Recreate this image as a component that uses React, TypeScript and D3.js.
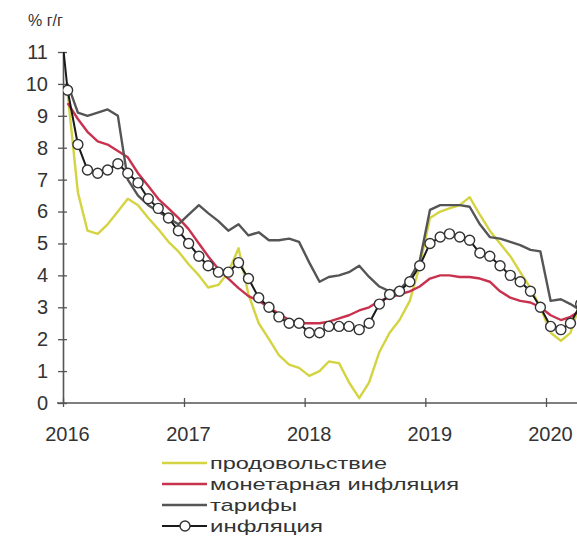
import { useEffect, useRef } from "react"
import * as d3 from "d3"

// monthly points, Dec 2015 .. Apr 2020 (plotted mid-month)
const months = d3
  .timeMonth.range(new Date(2015, 11, 1), new Date(2020, 4, 1))
  .map(d => new Date(d.getFullYear(), d.getMonth(), 15))

const inflation = [
  12.9,
  9.8, 8.1, 7.3, 7.2, 7.3, 7.5, 7.2, 6.9, 6.4, 6.1, 5.8, 5.4,
  5.0, 4.6, 4.3, 4.1, 4.1, 4.4, 3.9, 3.3, 3.0, 2.7, 2.5, 2.5,
  2.2, 2.2, 2.4, 2.4, 2.4, 2.3, 2.5, 3.1, 3.4, 3.5, 3.8, 4.3,
  5.0, 5.2, 5.3, 5.2, 5.1, 4.7, 4.6, 4.3, 4.0, 3.8, 3.5, 3.0,
  2.4, 2.3, 2.5, 3.1,
]

const food = [
  null,
  9.7, 6.6, 5.4, 5.3, 5.6, 6.0, 6.4, 6.2, 5.8, 5.45, 5.05, 4.75,
  4.35, 4.0, 3.62, 3.7, 4.1, 4.85, 3.4, 2.5, 2.0, 1.5, 1.2, 1.1,
  0.85, 1.0, 1.3, 1.25, 0.65, 0.15, 0.65, 1.6, 2.2, 2.6, 3.2, 4.3,
  5.8, 6.0, 6.1, 6.2, 6.45, 5.9, 5.4, 5.0, 4.6, 4.1, 3.6, 3.0,
  2.2, 1.95, 2.2, 3.2,
]

const monetary = [
  null,
  9.4, 8.9, 8.5, 8.2, 8.1, 7.9, 7.7, 7.2, 6.8, 6.4, 6.1, 5.8,
  5.45, 5.0, 4.6, 4.2, 3.9, 3.6, 3.35, 3.2, 3.0, 2.8, 2.6, 2.5,
  2.5, 2.5, 2.55, 2.65, 2.75, 2.9, 3.0, 3.2, 3.3, 3.4, 3.5, 3.65,
  3.9, 4.0, 4.0, 3.95, 3.95, 3.9, 3.8, 3.5, 3.3, 3.2, 3.15, 3.0,
  2.75, 2.6, 2.7, 2.9,
]

const tariffs = [
  null,
  10.0, 9.1, 9.0, 9.1, 9.2, 9.0, 7.0, 6.5, 6.2, 6.0, 5.8, 5.6,
  5.9, 6.2, 5.95, 5.7, 5.4, 5.6, 5.25, 5.35, 5.1, 5.1, 5.15, 5.05,
  4.4, 3.8, 3.95, 4.0, 4.1, 4.3, 3.95, 3.65, 3.5, 3.55, 3.9, 4.45,
  6.05, 6.2, 6.2, 6.2, 6.15, 5.6, 5.2, 5.15, 5.05, 4.95, 4.8, 4.75,
  3.2, 3.25, 3.1, 2.9,
]

const yearTicks = [2016, 2017, 2018, 2019, 2020]
const yTicks = [0, 1, 2, 3, 4, 5, 6, 7, 8, 9, 10, 11]

const seriesNames = ["продовольствие", "монетарная инфляция", "тарифы", "инфляция"]
const legendWidths = [177, 249, 87, 113]

const FONT = "'Liberation Sans', Arial, sans-serif"

export default function App() {
  const ref = useRef<SVGSVGElement>(null)

  useEffect(() => {
    document.body.style.margin = "0"
    const svg = d3.select(ref.current)
    svg.selectAll("*").remove()

    const x = d3.scaleTime()
      .domain([new Date(2016, 0, 1), new Date(2020, 0, 1)])
      .range([63, 546])
    const y = d3.scaleLinear().domain([0, 11]).range([403, 52])

    const defs = svg.append("defs")
    defs.append("clipPath")
      .attr("id", "plot-clip")
      .append("rect")
      .attr("x", 63)
      .attr("y", y(11))
      .attr("width", 577 - 63)
      .attr("height", y(0) - y(11))

    // y axis
    const yAxis = svg.append("g")
      .attr("transform", `translate(${x(new Date(2016, 0, 1))},0)`)
      .call(d3.axisLeft(y).tickValues(yTicks).tickSize(5).tickPadding(10).tickSizeOuter(0))
    yAxis.select(".domain").attr("stroke", "#555").attr("stroke-width", 1.6)
    yAxis.selectAll(".tick line").attr("x1", 4).attr("stroke", "#555").attr("stroke-width", 1.3)
    yAxis.selectAll(".tick text")
      .attr("font-family", FONT)
      .attr("font-size", 20)
      .attr("fill", "#333")

    // x axis
    const xAxis = svg.append("g")
      .attr("transform", `translate(0,${y(0)})`)
      .call(
        d3.axisBottom(x)
          .tickValues(yearTicks.map(yr => new Date(yr, 0, 1)))
          .tickFormat(d3.timeFormat("%Y") as any)
          .tickSize(4)
          .tickSizeOuter(0)
      )
    xAxis.select(".domain").attr("d", `M${63 - 6},0H577`).attr("stroke", "#555").attr("stroke-width", 1.6)
    xAxis.selectAll(".tick line").attr("y1", -5).attr("stroke", "#555").attr("stroke-width", 1.3)
    xAxis.selectAll(".tick text")
      .attr("y", 24)
      .attr("dy", "0.71em")
      .attr("dx", 4)
      .attr("font-family", FONT)
      .attr("font-size", 20)
      .attr("fill", "#333")

    // unit label
    svg.append("text")
      .attr("x", 28)
      .attr("y", 26)
      .attr("font-family", FONT)
      .attr("font-size", 16)
      .attr("fill", "#333")
      .text("% г/г")

    const plot = svg.append("g").attr("clip-path", "url(#plot-clip)")

    const line = d3.line<number | null>()
      .defined(d => d != null)
      .x((_, i) => x(months[i]))
      .y(d => y(d as number))

    const styles = [
      { data: food, color: "#d4d442", width: 2.4 },
      { data: monetary, color: "#c8324e", width: 2.4 },
      { data: tariffs, color: "#555555", width: 2.4 },
      { data: inflation, color: "#1a1a1a", width: 2 },
    ]

    styles.forEach(s => {
      plot.append("path")
        .datum(s.data)
        .attr("fill", "none")
        .attr("stroke", s.color)
        .attr("stroke-width", s.width)
        .attr("stroke-linejoin", "round")
        .attr("d", line)
    })

    plot.selectAll("circle.infl")
      .data(inflation)
      .join("circle")
      .attr("class", "infl")
      .attr("cx", (_, i) => x(months[i]))
      .attr("cy", d => y(d))
      .attr("r", 5)
      .attr("fill", "#fff")
      .attr("stroke", "#333")
      .attr("stroke-width", 1.4)

    // legend
    const legend = svg.append("g")
    seriesNames.forEach((name, i) => {
      const ly = 463 + i * 21
      const s = styles[i]
      legend.append("line")
        .attr("x1", 162)
        .attr("x2", 207)
        .attr("y1", ly)
        .attr("y2", ly)
        .attr("stroke", s.color)
        .attr("stroke-width", s.width)
      if (i === 3) {
        legend.append("circle")
          .attr("cx", 185)
          .attr("cy", ly)
          .attr("r", 5)
          .attr("fill", "#fff")
          .attr("stroke", "#333")
          .attr("stroke-width", 1.4)
      }
      legend.append("text")
        .attr("x", 210)
        .attr("y", ly)
        .attr("dy", "0.35em")
        .attr("font-family", FONT)
        .attr("font-size", 17)
        .attr("fill", "#333")
        .attr("textLength", legendWidths[i])
        .attr("lengthAdjust", "spacingAndGlyphs")
        .text(name)
    })
  }, [])

  return (
    <svg
      ref={ref}
      width={577}
      height={536}
      style={{ display: "block", background: "#fff" }}
    />
  )
}
